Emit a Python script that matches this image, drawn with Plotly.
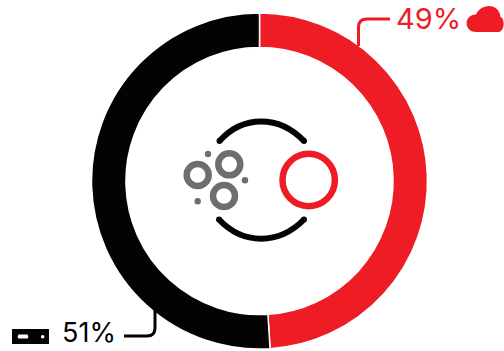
import plotly.graph_objects as go

W, H = 504, 351

segments = ["Cloud", "On-premises"]
shares = [49, 51]
segment_colors = ["#EE1C25", "#030303"]
share_labels = ["49%", "51%"]

RED = "#EE1C25"
BLACK = "#030303"
GRAY = "#6E6E6E"


def px(x):
    return x / W


def py(y):
    return 1 - y / H


def path(*parts):
    # Tokens are pixel pairs after each command letter; converted to paper fractions.
    out = []
    for cmd, *pts in parts:
        coords = " ".join(f"{px(x):.5f},{py(y):.5f}" for x, y in pts)
        out.append(f"{cmd}{coords}")
    return " ".join(out)


def ring(cx, cy, r, width, color):
    return dict(type="circle", xref="paper", yref="paper",
                x0=px(cx - r), x1=px(cx + r), y0=py(cy + r), y1=py(cy - r),
                line=dict(color=color, width=width), fillcolor="rgba(0,0,0,0)")


def dot(cx, cy, r, color):
    return dict(type="circle", xref="paper", yref="paper",
                x0=px(cx - r), x1=px(cx + r), y0=py(cy + r), y1=py(cy - r),
                line=dict(width=0), fillcolor=color)


def stroke(d, color, width):
    return dict(type="path", xref="paper", yref="paper", path=d,
                line=dict(color=color, width=width), fillcolor="rgba(0,0,0,0)")


def fill(d, color):
    return dict(type="path", xref="paper", yref="paper", path=d,
                line=dict(width=0), fillcolor=color)


shapes = [
    # Central emblem: arcs with rounded ends, grey cluster and red circle
    stroke(path(("M", (219.5, 141)), ("C", (243, 115), (279, 115), (304, 141))), BLACK, 6),
    stroke(path(("M", (219, 219.5)), ("C", (243, 245), (279, 245), (304, 219.5))), BLACK, 6),
    dot(219.5, 141, 3, BLACK), dot(304, 141, 3, BLACK),
    dot(219, 219.5, 3, BLACK), dot(304, 219.5, 3, BLACK),
    ring(197.7, 175, 11, 6.5, GRAY),
    ring(229.3, 164.3, 11, 6.5, GRAY),
    ring(224, 196, 11, 6.5, GRAY),
    dot(208, 154, 3.2, GRAY),
    dot(245, 180.3, 3.2, GRAY),
    dot(197.7, 201.3, 3.2, GRAY),
    ring(308.7, 180, 26.2, 6.5, RED),
    # Leader lines
    stroke(path(("M", (390, 19)), ("L", (367, 19)), ("Q", (358.5, 19), (358.5, 27)), ("L", (358.5, 46))), RED, 3),
    stroke(path(("M", (124, 336)), ("L", (147, 336)), ("Q", (155, 336), (155, 328)), ("L", (155, 308))), BLACK, 3),
    # Cloud icon
    fill(path(("M", (476, 32)), ("C", (464, 32), (463, 15), (476, 14.5)),
              ("C", (478, 10), (483, 6), (489, 6)),
              ("C", (496, 6), (500, 11), (500.5, 17)),
              ("C", (505, 18), (505, 32), (498, 32)),
              ("Z",)), RED),
    # Server icon
    fill(path(("M", (12, 329)), ("L", (49, 329)), ("L", (49, 344)), ("L", (12, 344)), ("Z",)), BLACK),
    fill(path(("M", (18.5, 334.5)), ("L", (27.5, 334.5)), ("Q", (29, 336.5), (27.5, 338.5)),
              ("L", (18.5, 338.5)), ("Q", (17, 336.5), (18.5, 334.5)), ("Z",)), "#FFFFFF"),
    dot(42.7, 336.7, 1.8, "#FFFFFF"),
]

fig = go.Figure(go.Pie(
    labels=segments,
    values=shares,
    hole=0.795,
    sort=False,
    direction="clockwise",
    rotation=0,
    textinfo="none",
    hoverinfo="label+percent",
    marker=dict(colors=segment_colors, line=dict(color="#FFFFFF", width=1.5)),
    domain=dict(x=[px(90.5), px(428.5)], y=[py(349), py(13)]),
    showlegend=False,
))

label_font = "Inter, 'Open Sans', sans-serif"
annotations = [
    dict(text=share_labels[0], x=px(428.5), y=py(19), yanchor="middle",
         font=dict(size=29, color=RED, family=label_font)),
    dict(text=share_labels[1], x=px(88.5), y=0, yanchor="bottom",
         font=dict(size=27, color=BLACK, family=label_font)),
]
for a in annotations:
    a.update(xref="paper", yref="paper", showarrow=False, xanchor="center")

fig.update_layout(
    width=W, height=H,
    margin=dict(l=0, r=0, t=0, b=0),
    paper_bgcolor="#FFFFFF",
    plot_bgcolor="#FFFFFF",
    shapes=shapes,
    annotations=annotations,
)

fig.write_html("out.html", config=dict(displayModeBar=False))
